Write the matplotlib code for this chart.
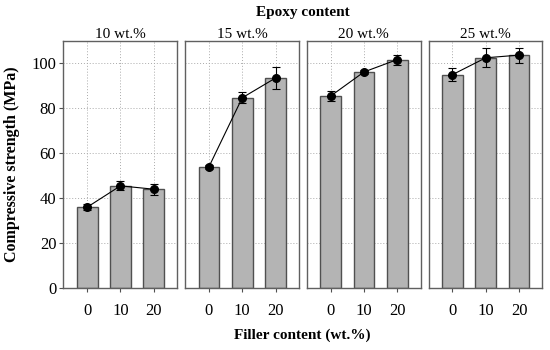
import numpy as np
import matplotlib
matplotlib.use("Agg")
import matplotlib.pyplot as plt

plt.rcParams['font.family'] = ['Liberation Serif', 'DejaVu Serif']

epoxy = ["10 wt.%", "15 wt.%", "20 wt.%", "25 wt.%"]
filler = ["0", "10", "20"]
strength = [
    [36.0, 45.5, 44.0],
    [54.0, 84.7, 93.5],
    [85.5, 96.2, 101.7],
    [95.0, 102.5, 103.7],
]
errors = [
    [1.3, 2.0, 2.4],
    [0.8, 2.5, 4.9],
    [2.3, 1.0, 2.2],
    [3.0, 4.3, 3.3],
]

fig, axes = plt.subplots(1, 4, figsize=(5.5, 3.5), dpi=100, sharey=True)
fig.subplots_adjust(left=0.115, right=0.986, top=0.883, bottom=0.177, wspace=0.07)

x = np.arange(len(filler))
for i, ax in enumerate(axes):
    ax.set_axisbelow(True)
    ax.grid(True, linestyle=(0, (1, 2)), color='#aaaaaa', linewidth=0.7)
    ax.bar(x, strength[i], width=0.62, color='#b4b4b4', edgecolor='#505050', linewidth=1.0, zorder=2)
    ax.errorbar(x, strength[i], yerr=errors[i], color='black', marker='o', markersize=5.5,
                linewidth=0.8, elinewidth=0.8, capsize=3, capthick=0.8, zorder=3)
    ax.set_xlim(-0.72, 2.7)
    ax.set_ylim(0, 110)
    ax.set_xticks(x)
    ax.set_xticklabels(filler)
    ax.set_yticks([0, 20, 40, 60, 80, 100])
    ax.tick_params(axis='both', labelsize=12, length=3, color='#505050', width=0.8)
    ax.tick_params(axis='x', pad=8)
    ax.tick_params(axis='y', pad=2)
    for s in ax.spines.values():
        s.set_color('#606060')
        s.set_linewidth(1.0)
    ax.set_title(epoxy[i], fontsize=11, pad=2)
    if i > 0:
        ax.tick_params(axis='y', left=False)

fig.text(0.55, 0.963, "Epoxy content", ha='center', va='center', fontsize=11, fontweight='bold')
fig.text(0.55, 0.043, "Filler content (wt.%)", ha='center', va='center', fontsize=11, fontweight='bold')
fig.text(0.022, 0.53, "Compressive strength (MPa)", ha='center', va='center', rotation=90,
         fontsize=11.5, fontweight='bold')

fig.savefig("out.png", dpi=100)
